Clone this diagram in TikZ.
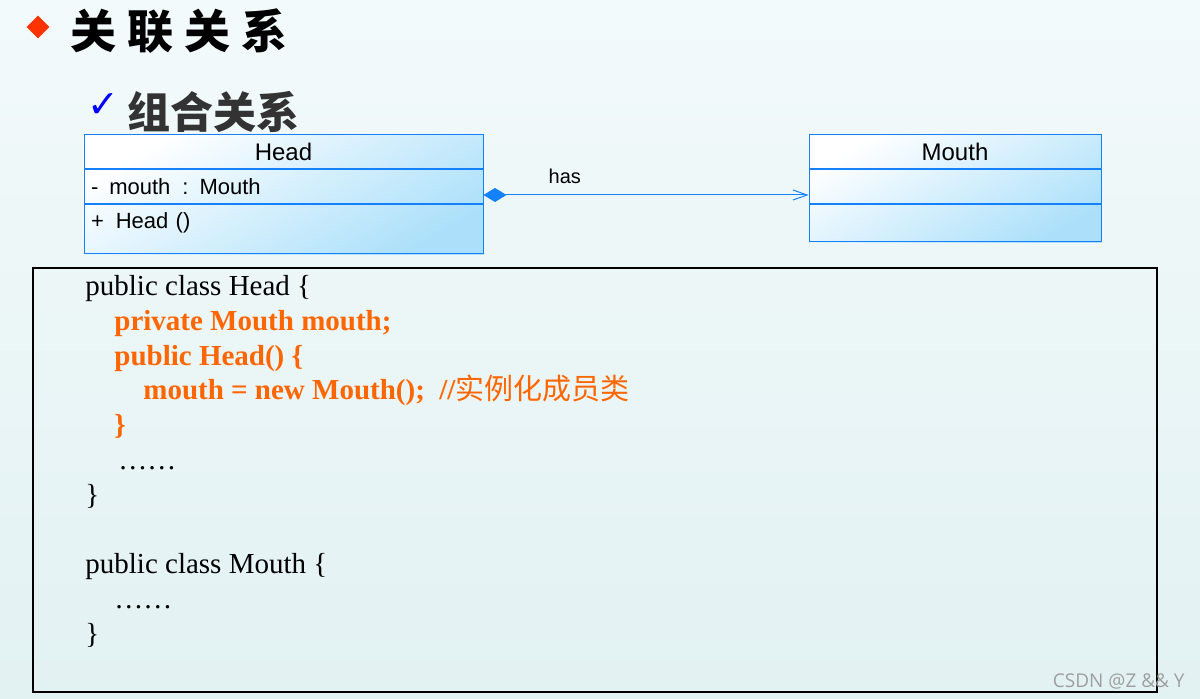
\documentclass[tikz,border=0pt]{standalone}
\usepackage{fontspec}
\setmainfont{Liberation Serif}
\newfontfamily\umlfont{Liberation Sans}
\newfontfamily\cjkfont{Noto Sans CJK SC}
\newfontfamily\symfont{DejaVu Sans}
\newfontfamily\markfont{Open Sans}
\usetikzlibrary{positioning,shapes.geometric,arrows.meta,backgrounds}

\definecolor{pagetop}{RGB}{243,250,251}
\definecolor{pagebottom}{RGB}{226,241,242}
\definecolor{umlline}{RGB}{20,128,250}
\definecolor{umlfill}{RGB}{172,224,250}
\definecolor{codeorange}{RGB}{255,102,0}
\definecolor{titlegray}{RGB}{51,51,51}
\definecolor{bulletred}{RGB}{255,51,0}

\tikzset{
  umlrow/.style={draw=umlline, line width=0.5pt, inner sep=0pt, minimum height=17pt, font=\umlfont\fontsize{11}{13}\selectfont},
  umlhead/.style={umlrow, font=\umlfont\fontsize{12}{14}\selectfont},
  umlleft/.style={umlrow, text width=#1, align=left, inner xsep=3.5pt},
  codeline/.style={anchor=base west, inner sep=0pt, font=\fontsize{14.5}{17}\selectfont},
  hotline/.style={codeline, text=codeorange, font=\bfseries\fontsize{14.5}{17}\selectfont},
}

\begin{document}
\begin{tikzpicture}[x=0.5pt, y=-0.5pt]
    \useasboundingbox (0,0) rectangle (1200,699);

    % Titel
    \node[diamond, fill=bulletred, minimum size=11.5pt, inner sep=0pt] (bullet) at (38,27) {};
    \node[anchor=west, inner sep=0pt, font=\cjkfont\bfseries\fontsize{23}{26}\selectfont] (title) at (70,31) {关\hspace{5.5pt}联\hspace{5.5pt}关\hspace{5.5pt}系};
    \node[anchor=west, inner sep=0pt, text=blue, font=\symfont\bfseries\fontsize{19}{22}\selectfont] (check) at (87,106) {✓};
    \node[anchor=west, inner sep=0pt, text=titlegray, font=\cjkfont\bfseries\fontsize{21.5}{24}\selectfont] (subtitle) at (127,112) {组合关系};

    % Klasse Head
    \node[umlhead, minimum width=199.5pt] (headname) at (283.5,152) {Head};
    \node[umlleft=192.5pt, below=0pt of headname] (headattr) {-\hspace{5.5pt}mouth\hspace{6pt}: Mouth};
    \node[umlleft=192.5pt, below=0pt of headattr, text height=12pt, text depth=12.5pt] (headop) {+\hspace{6pt}Head ()};

    % Klasse Mouth
    \node[umlhead, minimum width=146pt] (mouthname) at (955,152) {Mouth};
    \node[umlrow, minimum width=146pt, below=0pt of mouthname] (mouthattr) {};
    \node[umlrow, minimum width=146pt, minimum height=18.5pt, below=0pt of mouthattr] (mouthop) {};

    % Komposition
    \draw[umlline, line width=0.5pt, {Diamond[length=11.5pt,width=7pt]}-{Straight Barb[length=7pt,width=5pt]}]
        ([yshift=-4pt]headattr.east) -- node[pos=0.25, above=5.5pt, inner sep=0pt, text=black, font=\umlfont\fontsize{10}{12}\selectfont] (haslabel) {has} ([yshift=-4pt]mouthattr.west);

    % Code
    \node[draw=black, line width=1pt, minimum width=562pt, minimum height=212pt, inner sep=0pt] (codebox) at (595,480) {};
    \node[codeline] (c1) at (85,296) {public class Head \{};
    \node[hotline] (c2) at (114,331) {private Mouth mouth;};
    \node[hotline] (c3) at (114,366) {public Head() \{};
    \node[hotline] (c4) at (143,400) {mouth = new Mouth();\ \ //{\cjkfont\mdseries 实例化成员类}};
    \node[hotline] (c5) at (114,435) {\}};
    \node[codeline] (c6) at (118,470) {……};
    \node[codeline] (c7) at (85,505) {\}};
    \node[codeline] (c8) at (85,574) {public class Mouth \{};
    \node[codeline] (c9) at (114,609) {……};
    \node[codeline] (c10) at (85,644) {\}};

    \node[anchor=east, inner sep=0pt, text=gray!75, font=\markfont\fontsize{9.5}{11}\selectfont] (mark) at (1185,681) {CSDN @Z \&\& Y};

    % Hintergrund
    \begin{scope}[on background layer]
        \shade[top color=pagetop, bottom color=pagebottom] (0,0) rectangle (1200,699);
        \shade[top color=white, bottom color=umlfill, shading angle=30] (headname.north west) rectangle (headop.south east);
        \shade[top color=white, bottom color=umlfill, shading angle=30] (mouthname.north west) rectangle (mouthop.south east);
    \end{scope}
\end{tikzpicture}
\end{document}
